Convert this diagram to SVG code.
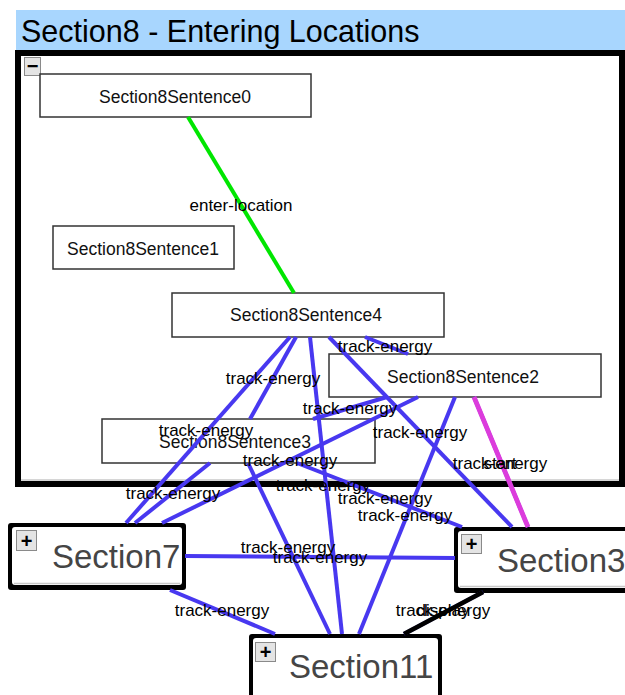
<svg xmlns="http://www.w3.org/2000/svg" width="625" height="695" viewBox="0 0 625 695">
  <style>
    text { font-family: "Liberation Sans", Arial, sans-serif; }
    .sent rect { fill: #ffffff; stroke: #333333; stroke-width: 1.5; }
    .sent text { font-size: 17.5px; text-anchor: middle; fill: #111111; }
    .sec .frame { fill: #000000; }
    .sec .inner { fill: #ffffff; }
    .sec .shade { stroke: #c8c8c8; stroke-width: 1.5; }
    .sec .name { font-size: 33px; fill: #454545; }
    .btn { fill: #e4e4e4; stroke: #8a8a8a; stroke-width: 1; }
    .btntxt { font-size: 20px; font-weight: bold; text-anchor: middle; fill: #000000; }
    .e { stroke-width: 4; stroke-linecap: butt; fill: none; }
    .blue { stroke: #4838f0; }
    .green { stroke: #00e600; }
    .pink { stroke: #dc3cdc; stroke-width: 4.8; }
    .black { stroke: #000000; stroke-width: 4.8; }
    .lbl { font-size: 17px; text-anchor: middle; fill: #000000; }
  </style>

  <rect width="625" height="695" fill="#ffffff"/>

  <!-- Section8 container -->
  <g id="section8">
    <rect x="16" y="10" width="609" height="40" fill="#a8d6fe"/>
    <text x="21" y="42" font-size="30.5" fill="#000000">Section8 - Entering Locations</text>
    <rect x="18" y="53" width="604" height="431" fill="#ffffff" stroke="#000000" stroke-width="6"/>
    <line x1="21" y1="480" x2="619" y2="480" stroke="#c8c8c8" stroke-width="1.5"/>
    <rect class="btn" x="24.5" y="57.5" width="16" height="18"/>
    <text class="btntxt" x="32.5" y="73">−</text>
  </g>

  <!-- sentence nodes -->
  <g id="Section8Sentence0" class="sent">
    <rect x="40" y="74" width="271" height="43"/>
    <text x="175" y="103">Section8Sentence0</text>
  </g>
  <g id="Section8Sentence1" class="sent">
    <rect x="53" y="226" width="181" height="43"/>
    <text x="143" y="255">Section8Sentence1</text>
  </g>
  <g id="Section8Sentence4" class="sent">
    <rect x="172" y="293" width="272" height="44"/>
    <text x="306" y="321">Section8Sentence4</text>
  </g>
  <g id="Section8Sentence2" class="sent">
    <rect x="329" y="354" width="272" height="43"/>
    <text x="463" y="383">Section8Sentence2</text>
  </g>
  <g id="Section8Sentence3" class="sent">
    <rect x="102" y="419" width="273" height="44"/>
    <text x="235" y="448">Section8Sentence3</text>
  </g>

  <!-- collapsed section nodes -->
  <g id="Section7" class="sec">
    <rect class="frame" x="8" y="523" width="178" height="67" rx="3"/>
    <rect class="inner" x="12" y="527" width="170" height="58" rx="3"/>
    <line class="shade" x1="14" y1="583.5" x2="180" y2="583.5"/>
    <rect class="btn" x="16.5" y="530.5" width="20" height="20"/>
    <text class="btntxt" x="26.5" y="547.5">+</text>
    <text class="name" x="52" y="568">Section7</text>
  </g>
  <g id="Section3" class="sec">
    <rect class="frame" x="454" y="527" width="190" height="66" rx="3"/>
    <rect class="inner" x="458" y="531" width="190" height="57" rx="3"/>
    <line class="shade" x1="460" y1="586.5" x2="625" y2="586.5"/>
    <rect class="btn" x="461.5" y="534.5" width="20" height="19"/>
    <text class="btntxt" x="471.5" y="551">+</text>
    <text class="name" x="497" y="572">Section3</text>
  </g>
  <g id="Section11" class="sec">
    <rect class="frame" x="249" y="634" width="193" height="75" rx="3"/>
    <rect class="inner" x="253" y="638" width="185" height="75" rx="3"/>
    <rect class="btn" x="255.5" y="642.5" width="20" height="19"/>
    <text class="btntxt" x="265.5" y="659">+</text>
    <text class="name" x="289" y="678">Section11</text>
  </g>

  <!-- connectors -->
  <g id="connectors">
    <line class="e green" x1="188" y1="117" x2="294" y2="293"/>
    <line class="e blue" x1="290" y1="337" x2="126" y2="523"/>
    <line class="e blue" x1="296" y1="337" x2="250" y2="419"/>
    <line class="e blue" x1="310" y1="337" x2="342" y2="634"/>
    <line class="e blue" x1="329" y1="337" x2="512" y2="527"/>
    <line class="e blue" x1="365" y1="337" x2="408" y2="354"/>
    <line class="e blue" x1="387" y1="397" x2="313" y2="419"/>
    <line class="e blue" x1="418" y1="397" x2="162" y2="523"/>
    <line class="e blue" x1="455" y1="397" x2="359" y2="634"/>
    <line class="e blue" x1="474" y1="397" x2="528" y2="527"/>
    <line class="e blue" x1="210" y1="463" x2="135" y2="523"/>
    <line class="e blue" x1="248" y1="463" x2="330" y2="634"/>
    <line class="e blue" x1="297" y1="463" x2="462" y2="527"/>
    <line class="e blue" x1="185" y1="556" x2="455" y2="558"/>
    <line class="e blue" x1="170" y1="590" x2="275" y2="634"/>
    <line class="e blue" x1="483" y1="592" x2="404" y2="634"/>
    <line class="e pink" x1="474" y1="397" x2="528" y2="527"/>
    <line class="e black" x1="483" y1="592" x2="404" y2="634"/>

    <text class="lbl" x="241" y="211">enter-location</text>
    <text class="lbl" x="273" y="384">track-energy</text>
    <text class="lbl" x="385" y="352">track-energy</text>
    <text class="lbl" x="350" y="414">track-energy</text>
    <text class="lbl" x="420" y="438">track-energy</text>
    <text class="lbl" x="206" y="436">track-energy</text>
    <text class="lbl" x="290" y="466">track-energy</text>
    <text class="lbl" x="173" y="499">track-energy</text>
    <text class="lbl" x="323" y="491">track-energy</text>
    <text class="lbl" x="385" y="504">track-energy</text>
    <text class="lbl" x="405" y="521">track-energy</text>
    <text class="lbl" x="500" y="469">track-energy</text>
    <text class="lbl" x="500" y="469">start</text>
    <text class="lbl" x="288" y="553">track-energy</text>
    <text class="lbl" x="320" y="563">track-energy</text>
    <text class="lbl" x="222" y="616">track-energy</text>
    <text class="lbl" x="443" y="616">track-energy</text>
    <text class="lbl" x="443" y="616">display</text>
  </g>
</svg>
